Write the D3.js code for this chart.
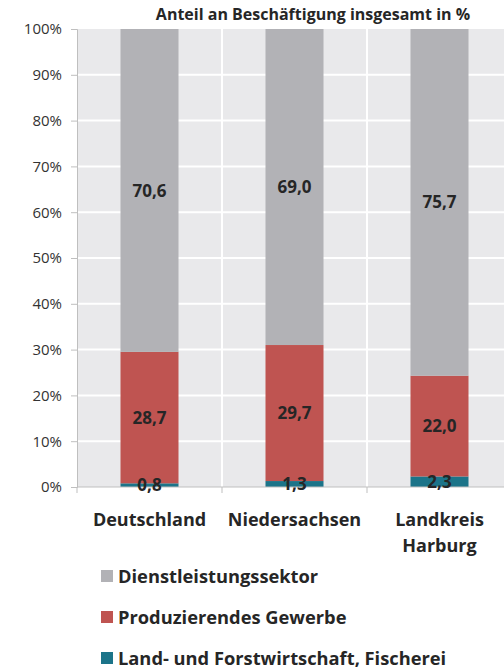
<!DOCTYPE html>
<html>
<head>
<meta charset="utf-8">
<script src="https://cdn.jsdelivr.net/npm/d3@7"></script>
<style>
  body { margin: 0; background: #fff; }
  svg { display: block; font-family: "Open Sans", sans-serif; }
</style>
</head>
<body>
<svg id="chart" width="504" height="669"></svg>
<script>
// Regions and their employment shares (%) per sector
const categories = [["Deutschland"], ["Niedersachsen"], ["Landkreis", "Harburg"]];
const categoryKeys = ["Deutschland", "Niedersachsen", "Landkreis Harburg"];
const landwirtschaft = [0.8, 1.3, 2.3];
const produzierend = [28.7, 29.7, 22.0];
const dienstleistung = [70.6, 69.0, 75.7];
const seriesNames = ["Land- und Forstwirtschaft, Fischerei", "Produzierendes Gewerbe", "Dienstleistungssektor"];
const seriesColors = ["#1c7489", "#bf5451", "#b2b2b6"];
const yTicks = [0, 10, 20, 30, 40, 50, 60, 70, 80, 90, 100];
const titleText = "Anteil an Beschäftigung insgesamt in %";

const svg = d3.select("#chart");
const m = { left: 77, right: 512, top: 29, bottom: 487 };
const textColor = "#262626";

const x = d3.scaleBand().domain(categoryKeys).range([m.left, m.right]).paddingInner(0).paddingOuter(0);
const barW = x.bandwidth() * 0.4;
const y = d3.scaleLinear().domain([0, 100]).range([m.bottom, m.top]);

// plot background
svg.append("rect").attr("x", m.left).attr("y", m.top)
  .attr("width", m.right - m.left).attr("height", m.bottom - m.top)
  .attr("fill", "#e9e9eb");

// horizontal gridlines
svg.append("g").selectAll("line").data(yTicks.filter(d => d > 0 && d < 100)).join("line")
  .attr("x1", m.left).attr("x2", m.right)
  .attr("y1", d => y(d)).attr("y2", d => y(d))
  .attr("stroke", "#fff").attr("stroke-width", 2);

// vertical separators between categories
svg.append("g").selectAll("line").data(categoryKeys.slice(1)).join("line")
  .attr("x1", d => x(d)).attr("x2", d => x(d))
  .attr("y1", m.top).attr("y2", m.bottom)
  .attr("stroke", "#fff").attr("stroke-width", 2);

// stacked data
const rows = categoryKeys.map((k, i) => ({ key: k, s0: landwirtschaft[i], s1: produzierend[i], s2: dienstleistung[i] }));
const stacked = d3.stack().keys(["s0", "s1", "s2"])(rows);

const layers = svg.append("g").selectAll("g").data(stacked).join("g")
  .attr("fill", (d, i) => seriesColors[i]);
layers.selectAll("rect").data(d => d).join("rect")
  .attr("x", d => x(d.data.key) + (x.bandwidth() - barW) / 2)
  .attr("width", barW)
  .attr("y", d => y(Math.min(100, d[1])))
  .attr("height", d => y(d[0]) - y(Math.min(100, d[1])));

// y axis
const yAxis = d3.axisLeft(y).tickValues(yTicks).tickFormat(d => d + "%").tickSize(6).tickPadding(9);
const gy = svg.append("g").attr("transform", `translate(${m.left},0)`).call(yAxis);
gy.select(".domain").attr("stroke", "#bfbfbf");
gy.selectAll(".tick line").attr("stroke", "#bfbfbf");
gy.selectAll(".tick text").attr("fill", "#333")
  .style("font-size", "15px").style("font-family", "'Open Sans', sans-serif");

// bottom axis line with boundary ticks
const gx = svg.append("g");
gx.append("line").attr("x1", m.left).attr("x2", m.right).attr("y1", m.bottom).attr("y2", m.bottom)
  .attr("stroke", "#bfbfbf");
gx.selectAll("line.t").data(categoryKeys).join("line").attr("class", "t")
  .attr("x1", d => x(d)).attr("x2", d => x(d))
  .attr("y1", m.bottom).attr("y2", m.bottom + 6).attr("stroke", "#bfbfbf");

// value labels, centred in each segment
const fmt = v => d3.format(".1f")(v).replace(".", ",");
stacked.forEach(layer => {
  svg.append("g").selectAll("text").data(layer).join("text")
    .attr("x", d => x(d.data.key) + x.bandwidth() / 2)
    .attr("y", d => (y(d[0]) + y(Math.min(100, d[1]))) / 2)
    .attr("dy", "0.36em")
    .attr("text-anchor", "middle")
    .attr("fill", textColor)
    .style("font-size", "17px").style("font-weight", "bold")
    .text(d => fmt(d.data[layer.key]));
});

// category labels
categories.forEach((lines, i) => {
  const cx = x(categoryKeys[i]) + x.bandwidth() / 2;
  const t = svg.append("text")
    .attr("x", cx).attr("y", 526)
    .attr("text-anchor", "middle")
    .attr("fill", textColor)
    .style("font-size", "18px").style("font-weight", "bold");
  lines.forEach((ln, j) => t.append("tspan").attr("x", cx).attr("dy", j ? 26 : 0).text(ln));
});

// title
svg.append("text").attr("x", 313).attr("y", 20).attr("text-anchor", "middle")
  .attr("fill", textColor).style("font-size", "16px").style("font-weight", "bold")
  .text(titleText);

// legend (top to bottom: services, manufacturing, agriculture)
const legendOrder = [2, 1, 0];
const lg = svg.append("g").selectAll("g").data(legendOrder).join("g")
  .attr("transform", (d, i) => `translate(101,${576 + i * 41})`);
lg.append("rect").attr("x", 0).attr("y", -6).attr("width", 12).attr("height", 12)
  .attr("fill", d => seriesColors[d]);
lg.append("text").attr("x", 17).attr("dy", "0.36em").attr("fill", textColor)
  .style("font-size", "18.3px").style("font-weight", "bold")
  .text(d => seriesNames[d]);
</script>
</body>
</html>
